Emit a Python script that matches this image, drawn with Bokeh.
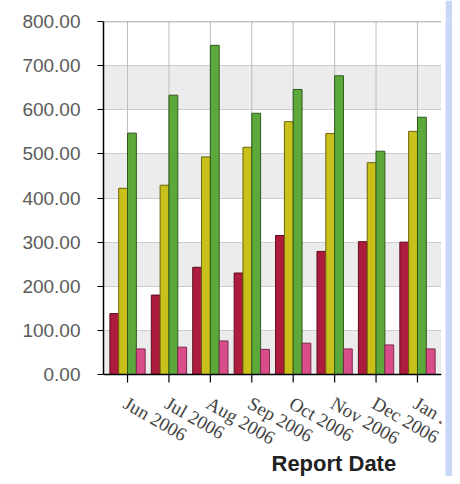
import math
from bokeh.plotting import figure
from bokeh.models import (ColumnDataSource, FactorRange, Range1d, FixedTicker,
                          NumeralTickFormatter, Span, Label)
from bokeh.transform import dodge
from bokeh.layouts import row
from bokeh.embed import file_html
from bokeh.resources import INLINE

# ---- data ----
months = ["Jun 2006", "Jul 2006", "Aug 2006", "Sep 2006",
          "Oct 2006", "Nov 2006", "Dec 2006", "Jan 2007"]
series_red = [138, 180, 243, 230, 315, 279, 301, 300]
series_yellow = [422, 429, 493, 515, 573, 546, 480, 551]
series_green = [547, 633, 746, 592, 646, 677, 506, 583]
series_pink = [58, 62, 76, 57, 71, 58, 67, 58]
y_ticks = [0, 100, 200, 300, 400, 500, 600, 700, 800]
y_min, y_max = 0, 800
x_title = "Report Date"

src = ColumnDataSource(dict(month=months, red=series_red, yellow=series_yellow,
                            green=series_green, pink=series_pink))

# ---- layout (pixels) ----
FONT = "Liberation Sans"
H = 476
MAIN_W = 445
STRIP_W = 7
STRIP_COLOR = "#c8d6f8"
TOP_PX = 21          # frame top (value y_max)
ZERO_PX = 374        # pixel row of value y_min
TICK_PX = 8          # length of the category tick marks
TITLE_BASE_PX = 463  # baseline of the axis title
# the frame reaches the bottom of the canvas so that the slanted month labels
# are clipped at the frame's right edge, as in the reference
px_per_unit = (ZERO_PX - TOP_PX) / (y_max - y_min)
y_start = y_min - (H - ZERO_PX) / px_per_unit
tick_units = TICK_PX / px_per_unit
title_y = y_min - (TITLE_BASE_PX - ZERO_PX) / px_per_unit

p = figure(x_range=FactorRange(factors=months, range_padding=0.08,
                               range_padding_units="absolute"),
           y_range=Range1d(y_start, y_max), x_axis_location=None,
           width=MAIN_W, height=H, output_backend="svg", toolbar_location=None,
           min_border_left=103, min_border_right=4, min_border_top=TOP_PX,
           min_border_bottom=0)
p.outline_line_color = None
p.background_fill_color = "white"
p.border_fill_color = "white"

# horizontal grid & alternating bands
p.ygrid.ticker = FixedTicker(ticks=y_ticks)
p.ygrid.grid_line_color = "#cdcdcd"
p.ygrid.band_fill_color = "#ececec"
p.ygrid.band_fill_alpha = 1.0
p.xgrid.visible = False

# vertical grid lines at each month (value range only)
p.segment(x0="month", x1="month", y0=y_min, y1=y_max, source=src,
          line_color="#bdbdbd", line_width=1)

bar_w = 0.213
cols = [("red", "#ad1b3d", "#5e0c20"), ("yellow", "#c9c01c", "#6b6408"),
        ("green", "#5ca83b", "#2d5a1c"), ("pink", "#d94d8b", "#7a2a4c")]
for i, (col, fill, edge) in enumerate(cols):
    p.vbar(x=dodge("month", (i - 1.5) * bar_w, range=p.x_range), top=col,
           bottom=y_min, width=bar_w, source=src, fill_color=fill,
           line_color=edge, line_width=1)

# top border line and category axis line
p.add_layout(Span(location=y_max, dimension="width", line_color="#888888",
                  line_width=1.5))
p.add_layout(Span(location=y_min, dimension="width", line_color="black",
                  line_width=1.5))
# category tick marks
p.segment(x0="month", x1="month", y0=y_min, y1=y_min - tick_units, source=src,
          line_color="black", line_width=1.2)
# category labels
p.text(x="month", y=y_min, text="month", source=src, angle=-math.pi / 6,
       x_offset=3, y_offset=18, text_align="left", text_baseline="top",
       text_font=FONT, text_font_size="19px", text_color="#444444")

# axis title
p.add_layout(Label(x=168, y=title_y, x_units="screen", y_units="data",
                   text=x_title, text_align="left",
                   text_baseline="alphabetic", text_font=FONT,
                   text_font_size="22px", text_font_style="bold",
                   text_color="#222222"))

# y axis
p.yaxis.bounds = (y_min, y_max)
p.yaxis.ticker = FixedTicker(ticks=y_ticks)
p.yaxis.formatter = NumeralTickFormatter(format="0.00")
p.yaxis.axis_line_color = "black"
p.yaxis.axis_line_width = 1.5
p.yaxis.major_tick_line_color = "black"
p.yaxis.major_tick_out = 6
p.yaxis.major_tick_in = 0
p.yaxis.minor_tick_line_color = None
p.yaxis.major_label_standoff = 17
p.yaxis.major_label_text_font = FONT
p.yaxis.major_label_text_font_size = "19px"
p.yaxis.major_label_text_color = "#5a5a5a"

# blue side strip (separate, empty panel)
s = figure(width=STRIP_W, height=H, output_backend="svg", toolbar_location=None,
           x_axis_type=None, y_axis_type=None, min_border_left=0,
           min_border_right=0, min_border_top=0, min_border_bottom=0,
           background_fill_color=STRIP_COLOR, border_fill_color=STRIP_COLOR)
s.outline_line_color = None
s.grid.visible = False

layout = row(p, s)
open("out.html", "w").write(file_html(layout, INLINE))
